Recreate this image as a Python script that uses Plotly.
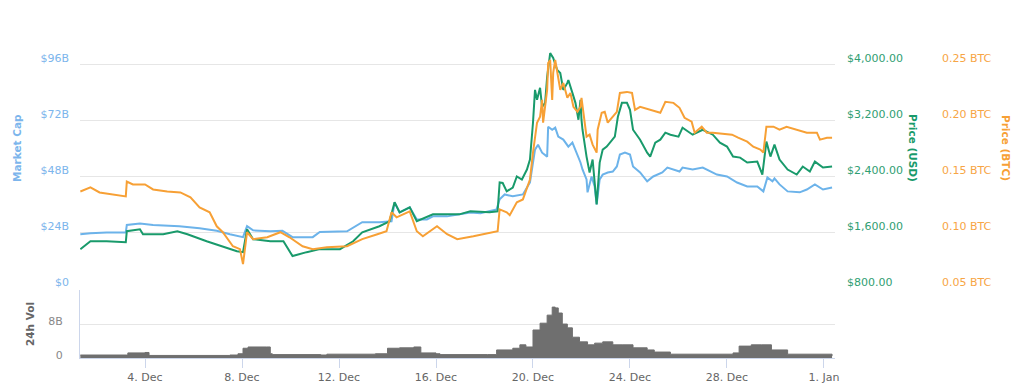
import plotly.graph_objects as go

# ---------------- data ----------------
mc_time = ["2017-12-01 08:00","2017-12-01 18:00","2017-12-02 10:00","2017-12-03 02:00","2017-12-03 05:00",
           "2017-12-03 06:00","2017-12-03 19:00","2017-12-04 08:00","2017-12-05 10:00","2017-12-06 06:00",
           "2017-12-06 23:00","2017-12-07 12:00","2017-12-08 01:00","2017-12-08 05:00","2017-12-08 11:00",
           "2017-12-09 04:00","2017-12-09 16:00","2017-12-10 02:00","2017-12-10 22:00","2017-12-11 05:00",
           "2017-12-12 08:00","2017-12-12 23:00","2017-12-13 16:00","2017-12-14 04:00","2017-12-14 07:00",
           "2017-12-14 12:00","2017-12-14 22:00","2017-12-15 05:00","2017-12-15 15:00","2017-12-15 21:00",
           "2017-12-16 11:00","2017-12-17 10:00","2017-12-17 20:00","2017-12-18 12:00","2017-12-18 15:00",
           "2017-12-18 20:00","2017-12-19 04:00","2017-12-19 14:00","2017-12-19 21:00","2017-12-20 02:00",
           "2017-12-20 05:00","2017-12-20 09:00","2017-12-20 14:00","2017-12-20 15:00","2017-12-20 19:00",
           "2017-12-20 22:00","2017-12-21 01:00","2017-12-21 06:00","2017-12-21 11:00","2017-12-21 15:00",
           "2017-12-21 20:00","2017-12-21 23:00","2017-12-22 01:00","2017-12-22 05:00","2017-12-22 06:00",
           "2017-12-22 10:00","2017-12-22 13:00","2017-12-22 15:00","2017-12-22 18:00","2017-12-22 21:00",
           "2017-12-23 02:00","2017-12-23 07:00","2017-12-23 11:00","2017-12-23 14:00","2017-12-23 19:00",
           "2017-12-24 00:00","2017-12-24 03:00","2017-12-24 10:00","2017-12-24 17:00","2017-12-24 23:00",
           "2017-12-25 08:00","2017-12-25 13:00","2017-12-26 01:00","2017-12-26 04:00","2017-12-26 14:00",
           "2017-12-27 00:00","2017-12-27 14:00","2017-12-28 00:00","2017-12-28 10:00","2017-12-28 20:00",
           "2017-12-29 06:00","2017-12-29 12:00","2017-12-29 16:00","2017-12-29 21:00","2017-12-29 23:00",
           "2017-12-30 04:00","2017-12-30 12:00","2017-12-31 00:00","2017-12-31 07:00","2017-12-31 15:00",
           "2017-12-31 23:00","2018-01-01 08:00"]
mc_billion = [23.0,23.5,23.8,23.6,23.8,27.0,27.6,27.0,26.5,25.6,
              24.5,23.0,21.8,26.5,24.7,24.3,24.5,21.8,21.8,24.0,
              24.3,28.2,28.2,28.6,36.7,32.4,34.6,29.4,29.4,30.7,
              30.7,32.4,32.0,33.7,38.0,40.1,39.3,40.1,45.2,59.3,
              61.4,58.0,56.3,69.1,67.8,68.7,64.9,63.6,60.6,62.3,
              57.2,53.8,50.8,46.5,41.0,47.8,43.5,35.8,46.5,48.6,
              49.5,49.9,52.1,57.2,58.0,57.2,52.1,49.5,45.7,47.8,
              49.5,51.6,49.9,51.6,50.8,51.6,48.6,47.8,45.2,43.5,
              43.5,41.4,47.4,45.7,47.0,44.4,41.4,41.0,42.2,44.4,
              42.2,43.1]

usd_time = ["2017-12-01 08:00","2017-12-01 18:00","2017-12-02 10:00","2017-12-03 02:00","2017-12-03 05:00",
            "2017-12-03 06:00","2017-12-03 19:00","2017-12-03 22:00","2017-12-04 18:00","2017-12-05 08:00",
            "2017-12-05 18:00","2017-12-06 13:00","2017-12-07 05:00","2017-12-07 19:00","2017-12-08 01:00",
            "2017-12-08 05:00","2017-12-08 11:00","2017-12-09 04:00","2017-12-09 17:00","2017-12-10 02:00",
            "2017-12-10 16:00","2017-12-11 05:00","2017-12-12 01:00","2017-12-12 14:00","2017-12-12 23:00",
            "2017-12-13 16:00","2017-12-14 02:00","2017-12-14 07:00","2017-12-14 12:00","2017-12-14 22:00",
            "2017-12-15 05:00","2017-12-15 21:00","2017-12-16 23:00","2017-12-17 10:00","2017-12-18 05:00",
            "2017-12-18 13:00","2017-12-18 15:00","2017-12-18 18:00","2017-12-18 22:00","2017-12-19 04:00",
            "2017-12-19 08:00","2017-12-19 13:00","2017-12-19 18:00","2017-12-19 21:00","2017-12-20 00:00",
            "2017-12-20 02:00","2017-12-20 04:00","2017-12-20 07:00","2017-12-20 09:00","2017-12-20 12:00",
            "2017-12-20 14:00","2017-12-20 17:00","2017-12-20 20:00","2017-12-21 00:00","2017-12-21 03:00",
            "2017-12-21 06:00","2017-12-21 10:00","2017-12-21 11:00","2017-12-21 15:00","2017-12-21 18:00",
            "2017-12-21 21:00","2017-12-21 23:00","2017-12-22 00:00","2017-12-22 01:00","2017-12-22 05:00",
            "2017-12-22 08:00","2017-12-22 11:00","2017-12-22 13:00","2017-12-22 15:00","2017-12-22 18:00",
            "2017-12-22 21:00","2017-12-23 01:00","2017-12-23 06:00","2017-12-23 09:00","2017-12-23 12:00",
            "2017-12-23 16:00","2017-12-23 21:00","2017-12-24 00:00","2017-12-24 03:00","2017-12-24 10:00",
            "2017-12-24 17:00","2017-12-24 20:00","2017-12-25 01:00","2017-12-25 06:00","2017-12-25 11:00",
            "2017-12-25 16:00","2017-12-26 00:00","2017-12-26 04:00","2017-12-26 14:00","2017-12-27 00:00",
            "2017-12-27 10:00","2017-12-27 17:00","2017-12-28 00:00","2017-12-28 06:00","2017-12-28 13:00",
            "2017-12-28 20:00","2017-12-29 06:00","2017-12-29 11:00","2017-12-29 15:00","2017-12-29 19:00",
            "2017-12-29 23:00","2017-12-30 04:00","2017-12-30 12:00","2017-12-30 21:00","2017-12-31 03:00",
            "2017-12-31 10:00","2017-12-31 15:00","2017-12-31 23:00","2018-01-01 08:00"]
usd_price = [1355,1468,1468,1454,1454,1611,1639,1568,1568,1611,
             1568,1468,1397,1326,1312,1639,1497,1468,1468,1256,
             1312,1355,1355,1468,1596,1682,1753,2024,1881,1952,
             1753,1852,1852,1895,1881,1895,2308,2300,2180,2236,
             2393,2350,2492,2635,3161,3630,3488,3659,3388,3445,
             3815,4156,4085,3914,3872,3630,3730,3772,3588,3445,
             3204,3488,3204,3061,2677,2450,2635,2308,1995,2592,
             2777,2820,2919,2962,3246,3445,3445,3346,3061,2919,
             2734,2677,2876,2919,3019,2990,2962,3090,2990,3061,
             2990,2876,2820,2677,2663,2592,2606,2421,2891,2677,
             2848,2635,2492,2421,2535,2464,2606,2521,2535]

btc_time = ["2017-12-01 08:00","2017-12-01 18:00","2017-12-02 03:00","2017-12-02 16:00","2017-12-03 02:00",
            "2017-12-03 05:00","2017-12-03 06:00","2017-12-03 12:00","2017-12-04 00:00","2017-12-04 08:00",
            "2017-12-04 22:00","2017-12-05 11:00","2017-12-05 21:00","2017-12-06 06:00","2017-12-06 16:00",
            "2017-12-06 23:00","2017-12-07 05:00","2017-12-07 15:00","2017-12-07 22:00","2017-12-08 01:00",
            "2017-12-08 05:00","2017-12-08 11:00","2017-12-09 01:00","2017-12-09 14:00","2017-12-09 23:00",
            "2017-12-10 12:00","2017-12-10 22:00","2017-12-11 12:00","2017-12-12 08:00","2017-12-12 23:00",
            "2017-12-13 14:00","2017-12-13 23:00","2017-12-14 04:00","2017-12-14 09:00","2017-12-14 22:00",
            "2017-12-15 05:00","2017-12-15 11:00","2017-12-16 01:00","2017-12-16 11:00","2017-12-16 21:00",
            "2017-12-17 13:00","2017-12-18 08:00","2017-12-18 13:00","2017-12-18 15:00","2017-12-18 22:00",
            "2017-12-19 01:00","2017-12-19 08:00","2017-12-19 14:00","2017-12-19 21:00","2017-12-20 00:00",
            "2017-12-20 04:00","2017-12-20 07:00","2017-12-20 09:00","2017-12-20 10:00","2017-12-20 14:00",
            "2017-12-20 15:00","2017-12-20 17:00","2017-12-20 19:00","2017-12-20 20:00","2017-12-20 22:00",
            "2017-12-21 01:00","2017-12-21 03:00","2017-12-21 06:00","2017-12-21 10:00","2017-12-21 13:00",
            "2017-12-21 16:00","2017-12-21 20:00","2017-12-21 23:00","2017-12-22 00:00","2017-12-22 03:00",
            "2017-12-22 05:00","2017-12-22 08:00","2017-12-22 11:00","2017-12-22 15:00","2017-12-22 16:00",
            "2017-12-22 20:00","2017-12-22 23:00","2017-12-23 02:00","2017-12-23 07:00","2017-12-23 11:00",
            "2017-12-23 14:00","2017-12-23 21:00","2017-12-24 02:00","2017-12-24 05:00","2017-12-24 10:00",
            "2017-12-24 20:00","2017-12-25 06:00","2017-12-25 11:00","2017-12-25 19:00","2017-12-26 01:00",
            "2017-12-26 06:00","2017-12-26 13:00","2017-12-26 16:00","2017-12-26 23:00","2017-12-27 04:00",
            "2017-12-27 10:00","2017-12-28 00:00","2017-12-28 05:00","2017-12-28 11:00","2017-12-28 20:00",
            "2017-12-29 02:00","2017-12-29 09:00","2017-12-29 12:00","2017-12-29 15:00","2017-12-29 22:00",
            "2017-12-30 04:00","2017-12-30 11:00","2017-12-30 21:00","2017-12-31 07:00","2017-12-31 17:00",
            "2017-12-31 20:00","2018-01-01 03:00","2018-01-01 08:00"]
btc_price = [0.1362,0.1398,0.1353,0.1336,0.1318,0.1318,0.1451,0.1424,0.1424,0.1380,
             0.1362,0.1353,0.1309,0.1220,0.1176,0.1051,0.0998,0.0873,0.0847,0.0713,
             0.0998,0.0936,0.0953,0.0998,0.0953,0.0873,0.0847,0.0864,0.0873,0.0936,
             0.0980,0.1007,0.1176,0.1131,0.1184,0.1007,0.0962,0.1051,0.0980,0.0936,
             0.0962,0.0998,0.1007,0.1202,0.1176,0.1150,0.1265,0.1291,0.1469,0.1709,
             0.1976,0.2029,0.2180,0.1976,0.2269,0.2509,0.2536,0.2180,0.2420,0.2536,
             0.2358,0.2269,0.2331,0.2198,0.2242,0.2118,0.2073,0.2118,0.2198,0.1976,
             0.1851,0.1869,0.1780,0.1709,0.1913,0.2064,0.2073,0.1976,0.2029,0.2073,
             0.2242,0.2251,0.2242,0.2091,0.2118,0.2091,0.2064,0.2162,0.2153,0.2109,
             0.2020,0.1985,0.1887,0.1940,0.1887,0.1887,0.1869,0.1869,0.1842,0.1807,
             0.1762,0.1736,0.1709,0.1940,0.1940,0.1913,0.1940,0.1913,0.1887,0.1887,
             0.1825,0.1842,0.1842]

vol_time = ["2017-12-01 08:00","2017-12-03 06:00","2017-12-03 07:00","2017-12-04 00:00","2017-12-04 04:00",
            "2017-12-07 12:00","2017-12-07 20:00","2017-12-08 01:00","2017-12-08 06:00","2017-12-09 00:00",
            "2017-12-09 04:00","2017-12-09 06:00","2017-12-11 06:00","2017-12-11 12:00","2017-12-13 12:00",
            "2017-12-14 00:00","2017-12-14 12:00","2017-12-15 02:00","2017-12-15 09:00","2017-12-16 00:00",
            "2017-12-16 04:00","2017-12-18 03:00","2017-12-18 12:00","2017-12-19 04:00","2017-12-19 11:00",
            "2017-12-19 17:00","2017-12-20 00:00","2017-12-20 07:00","2017-12-20 14:00","2017-12-20 19:00",
            "2017-12-20 22:00","2017-12-21 01:00","2017-12-21 05:00","2017-12-21 10:00","2017-12-21 15:00",
            "2017-12-21 22:00","2017-12-22 06:00","2017-12-22 13:00","2017-12-22 21:00","2017-12-23 07:00",
            "2017-12-23 17:00","2017-12-24 03:00","2017-12-24 17:00","2017-12-25 00:00","2017-12-25 16:00",
            "2017-12-27 20:00","2017-12-28 06:00","2017-12-28 12:00","2017-12-29 00:00","2017-12-29 10:00",
            "2017-12-29 20:00","2017-12-30 12:00","2018-01-01 08:00"]
vol_billion = [0.7,0.7,1.2,1.3,0.6,0.7,1.0,2.3,2.6,2.6,
               1.0,0.8,0.7,0.9,1.0,2.3,2.4,2.6,1.2,1.0,
               0.8,0.8,1.9,2.3,3.1,2.6,6.6,8.2,10.1,12.0,
               11.8,10.6,8.0,7.1,4.9,3.8,3.1,3.5,3.8,3.1,
               3.1,2.4,1.9,1.4,0.9,0.9,1.2,2.8,3.1,3.1,
               1.9,0.9,0.5]

mc_ticks = [0, 24, 48, 72, 96, 120]
mc_ticktext = ["$0", "$24B", "$48B", "$72B", "$96B", ""]
usd_ticks = [800, 1600, 2400, 3200, 4000, 4800]
usd_ticktext = ["$800.00", "$1,600.00", "$2,400.00", "$3,200.00", "$4,000.00", ""]
btc_ticks = [0.05, 0.10, 0.15, 0.20, 0.25, 0.30]
btc_ticktext = ["0.05 BTC", "0.10 BTC", "0.15 BTC", "0.20 BTC", "0.25 BTC", ""]
vol_ticks = [0, 8, 16]
vol_ticktext = ["0", "8B", ""]

# ---------------- styling ----------------
C_MC = "#6cb3ea"
C_USD = "#199a6b"
C_BTC = "#f7a035"
C_VOL = "#6f6f6f"
FONT = "DejaVu Sans"
GRID = "#e6e6e6"
PW = 755  # plot width in px
BODY = 8  # default page margin around the figure div

fig = go.Figure()
fig.add_trace(go.Scatter(x=mc_time, y=mc_billion, mode="lines", line=dict(color=C_MC, width=2),
                         xaxis="x", yaxis="y", name="Market Cap"))
fig.add_trace(go.Scatter(x=usd_time, y=usd_price, mode="lines", line=dict(color=C_USD, width=2),
                         xaxis="x", yaxis="y2", name="Price (USD)"))
fig.add_trace(go.Scatter(x=btc_time, y=btc_price, mode="lines", line=dict(color=C_BTC, width=2),
                         xaxis="x", yaxis="y3", name="Price (BTC)"))
fig.add_trace(go.Scatter(x=vol_time, y=vol_billion, mode="lines", line=dict(color=C_VOL, width=1, shape="hv"),
                         fill="tozeroy", fillcolor=C_VOL, xaxis="x2", yaxis="y4", name="24h Vol"))

xrange = ["2017-12-01 07:40", "2018-01-01 10:54"]

fig.update_layout(
    template="none",
    width=1024 - BODY, height=386 - BODY,
    margin=dict(l=80 - BODY, r=189, t=0, b=28, pad=0, autoexpand=False),
    paper_bgcolor="white", plot_bgcolor="white",
    showlegend=False,
    font=dict(family=FONT, size=11, color="#666666"),
    xaxis=dict(domain=[0, 1], anchor="y", range=xrange, type="date", matches="x2", automargin=False,
               showticklabels=False, showgrid=False, zeroline=False, showline=False, ticks=""),
    xaxis2=dict(domain=[0, 1], anchor="y4", range=xrange, type="date", automargin=False,
                tick0="2017-12-04", dtick=4 * 86400000, tickformat="%-d. %b",
                showgrid=False, zeroline=False, showline=True, linecolor="#ccd6eb", linewidth=1,
                ticks="outside", ticklen=9, tickcolor="#ccd6eb", tickwidth=1,
                tickfont=dict(family=FONT, size=11, color="#666666")),
    yaxis=dict(domain=[0.2, 1], anchor="x", range=[0, 120], tickvals=mc_ticks, ticktext=mc_ticktext,
               automargin=False,
               showgrid=True, gridcolor=GRID, gridwidth=1, zeroline=False, showline=False, ticks="",
               tickfont=dict(family=FONT, size=11, color="#7cb5ec"), ticklabelstandoff=10,
               ticklabelshift=-6),
    yaxis2=dict(overlaying="y", side="right", anchor="x", range=[800, 4800], tickvals=usd_ticks,
                automargin=False,
                ticktext=usd_ticktext, showgrid=False, zeroline=False, showline=False, ticks="",
                tickfont=dict(family=FONT, size=11, color="#2f9e72"), ticklabelstandoff=11,
                ticklabelshift=-6),
    yaxis3=dict(overlaying="y", side="right", anchor="x", range=[0.05, 0.30], tickvals=btc_ticks,
                automargin=False,
                ticktext=btc_ticktext, showgrid=False, zeroline=False, showline=False, ticks="",
                tickfont=dict(family=FONT, size=11, color="#f7a545"), ticklabelstandoff=106,
                ticklabelshift=-6),
    yaxis4=dict(domain=[0, 0.194], anchor="x2", range=[0, 16], tickvals=vol_ticks, ticktext=vol_ticktext,
                automargin=False,
                showgrid=True, gridcolor=GRID, zeroline=False, showline=True, linecolor="#ccd6eb",
                ticks="", tickfont=dict(family=FONT, size=11, color="#888888"), ticklabelstandoff=14,
                ticklabelshift=-3),
    annotations=[
        dict(text="<b>Market Cap</b>", xref="paper", yref="paper", x=(17 - 80) / PW, y=0.6,
             xanchor="center", yanchor="middle", textangle=-90, showarrow=False,
             font=dict(family=FONT, size=10.5, color="#7cb5ec")),
        dict(text="<b>Price (USD)</b>", xref="paper", yref="paper", x=(913 - 80) / PW, y=0.6,
             xanchor="center", yanchor="middle", textangle=90, showarrow=False,
             font=dict(family=FONT, size=10.5, color=C_USD)),
        dict(text="<b>Price (BTC)</b>", xref="paper", yref="paper", x=(1006 - 80) / PW, y=0.6,
             xanchor="center", yanchor="middle", textangle=90, showarrow=False,
             font=dict(family=FONT, size=10.5, color=C_BTC)),
        dict(text="<b>24h Vol</b>", xref="paper", yref="paper", x=(30 - 80) / PW, y=0.097,
             xanchor="center", yanchor="middle", textangle=-90, showarrow=False,
             font=dict(family=FONT, size=10.5, color="#666666")),
    ],
)

fig.write_html("out.html")
